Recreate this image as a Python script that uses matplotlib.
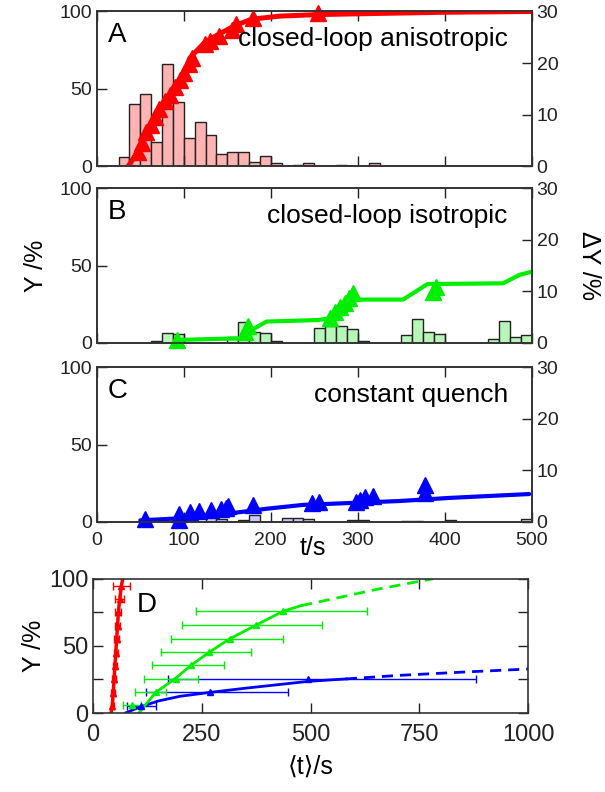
import matplotlib
matplotlib.use('Agg')
import matplotlib.pyplot as plt
import numpy as np

plt.rcParams['font.family'] = ['Liberation Sans', 'DejaVu Sans']

# ---- panel A: closed-loop anisotropic
a_bins = [25, 37.5, 50, 62.5, 75, 87.5, 100, 112.5, 125, 137.5, 150, 162.5,
          175, 187.5, 200, 225, 237.5, 275, 312.5]
a_hist = [1.8, 12.0, 14.0, 4.7, 19.8, 12.5, 5.4, 8.5, 6.0, 2.3, 2.7, 2.8,
          0.8, 2.0, 0.6, 0.2, 0.6, 0.2, 0.6]
a_line_t = [36, 47, 53, 60, 69, 80, 92, 99, 107, 124, 136, 159, 178, 210, 254, 300, 400, 500]
a_line_y = [0, 9, 18, 25, 33, 43, 53, 59, 70, 80, 84, 91, 95, 97, 98, 98.5, 99.5, 100]
a_pts_t = [47, 52, 56, 62, 67, 72, 78, 84, 90, 96, 100, 106, 110, 124, 130, 140, 155, 160, 180, 254]
a_pts_y = [9, 15, 22, 27, 32, 37, 42, 46, 51, 56, 60, 66, 70, 79, 81, 84, 88, 92, 96, 99]

# ---- panel B: closed-loop isotropic
b_bins = [62.5, 75, 87.5, 150, 162.5, 175, 187.5, 200, 250, 262.5, 275, 287.5, 300,
          350, 362.5, 375, 387.5, 450, 462.5, 475, 487.5]
b_hist = [0.4, 1.9, 1.7, 1.1, 4.0, 2.2, 2.0, 0.3, 2.8, 3.3, 3.3, 2.7, 0.4,
          1.5, 4.6, 2.2, 1.7, 0.8, 4.3, 1.1, 1.5]
b_line_t = [97, 164, 180, 195, 255, 268, 298, 352, 380, 467, 486, 500]
b_line_y = [2, 3, 9, 13.8, 14.8, 16, 28, 28, 38, 38.5, 44, 46]
b_pts_t = [92, 170, 174, 268, 274, 280, 285, 290, 294, 386, 390]
b_pts_y = [2, 7, 11, 16, 20, 23, 26, 29, 32, 33, 36]

# ---- panel C: constant quench
c_bins = [87.5, 100, 125, 137.5, 162.5, 175, 212.5, 225, 237.5, 287.5, 300, 350, 362.5, 400, 487.5]
c_hist = [0.7, 0.3, 1.1, 0.5, 0.3, 1.3, 0.8, 0.8, 0.5, 0.3, 0.3, 0.2, 0.2, 0.3, 0.5]
c_line_t = [50, 94, 125, 160, 195, 237, 348, 405, 497]
c_line_y = [1, 2.3, 3.8, 6, 8.5, 11, 13.5, 15.5, 18]
c_pts_t = [55, 94, 95, 107, 118, 131, 143, 148, 151, 180, 247, 255, 298, 303, 308, 318, 377, 377]
c_pts_y = [2, 1, 5, 6.5, 7, 8, 8.5, 9, 10, 11, 12, 13, 13, 14, 16, 17, 19, 24]

# ---- panel D: mean time vs yield
d_red_t = [44, 46, 48, 50, 52, 54, 56, 58, 61, 65]
d_red_y = [5, 15, 25, 35, 45, 55, 65, 75, 85, 95]
d_red_err = [4, 4, 4, 5, 5, 5, 6, 7, 11, 20]
d_red_line_t = [41, 44, 46, 48, 50, 52, 54, 56, 58, 61, 65, 68]
d_red_line_y = [0, 5, 15, 25, 35, 45, 55, 65, 75, 85, 95, 100]

d_grn_t = [90, 144, 190, 226, 267, 314, 374, 437]
d_grn_y = [5.7, 15.4, 25.4, 35.8, 45.3, 55.5, 65.4, 75.9]
d_grn_lo = [69, 96, 117, 136, 157, 180, 205, 236]
d_grn_hi = [109, 167, 240, 300, 362, 437, 525, 629]
d_grn_fit_t = [105, 120, 144, 190, 226, 267, 314, 374, 437, 478]
d_grn_fit_y = [0, 6, 15.4, 26, 35.8, 45.3, 55.3, 65.4, 75.9, 80]
d_grn_ext_t = [478, 550, 650, 781]
d_grn_ext_y = [80, 85, 92, 100]

d_blu_t = [110, 269, 495]
d_blu_y = [5, 15.4, 25.4]
d_blu_lo = [78, 122, 172]
d_blu_hi = [144, 449, 879]
d_blu_fit_t = [74, 105, 150, 200, 269, 350, 495, 581]
d_blu_fit_y = [0, 4.2, 9, 12.5, 15.4, 18.5, 23.6, 25.4]
d_blu_ext_t = [581, 700, 850, 1000]
d_blu_ext_y = [25.4, 28, 30.5, 32.8]

RED = '#ff0000'
GREEN = '#00ee00'
BLUE = '#0000ff'

fig = plt.figure(figsize=(6.05, 7.92), dpi=100)

def style(ax, size):
    for s in ax.spines.values():
        s.set_color('#333333')
        s.set_linewidth(1.2)
    ax.tick_params(direction='in', length=7, width=1, labelsize=size, colors='#222222')


panels = [
    (0.790, a_bins, a_hist, '#ffb3b3', a_line_t, a_line_y, a_pts_t, a_pts_y, RED, 'A', 'closed-loop anisotropic', 3.6),
    (0.567, b_bins, b_hist, '#b8f5b8', b_line_t, b_line_y, b_pts_t, b_pts_y, GREEN, 'B', 'closed-loop isotropic', 3.0),
    (0.341, c_bins, c_hist, '#c8c8ff', c_line_t, c_line_y, c_pts_t, c_pts_y, BLUE, 'C', 'constant quench', 3.0),
]

for i, (bot, bins, hist, hcol, lt, ly, pt, py, col, letter, name, lw) in enumerate(panels):
    ax = fig.add_axes([0.160, bot, 0.719, 0.1955])
    ax2 = ax.twinx()
    ax2.bar(bins, hist, width=12.5, align='edge', color=hcol, edgecolor='#222222', linewidth=1.0)
    ax2.set_ylim(0, 30)
    ax2.set_yticks([0, 10, 20, 30])
    ax.set_zorder(ax2.get_zorder() + 1)
    ax.patch.set_visible(False)
    ax.plot(lt, ly, color=col, lw=lw, solid_capstyle='round')
    ax.plot(pt, py, '^', color=col, ms=12, mec=col, clip_on=False)
    ax.set_xlim(0, 500)
    ax.set_ylim(0, 100)
    ax.set_yticks([0, 50, 100])
    ax.set_xticks([0, 100, 200, 300, 400, 500])
    ax.tick_params(top=True, bottom=True)
    style(ax, 14)
    style(ax2, 14)
    ax2.tick_params(right=True, left=False)
    if i < 2:
        ax.set_xticklabels([])
    else:
        ax.tick_params(axis='x', pad=7)
    ax.text(0.025, 0.93, letter, transform=ax.transAxes, fontsize=20, va='top', ha='left')
    ax.text(0.945, 0.82, name, transform=ax.transAxes, fontsize=19, va='center', ha='right')
    if i == 1:
        ax.set_ylabel('Y /%', fontsize=18, labelpad=8)
        ax2.set_ylabel('ΔY /%', fontsize=18, rotation=270, labelpad=31)

fig.text(0.517, 0.308, 't/s', fontsize=18, ha='center', va='center')

# ---- panel D
axd = fig.add_axes([0.154, 0.0997, 0.719, 0.1695])
axd.errorbar(d_blu_t, d_blu_y,
             xerr=[np.subtract(d_blu_t, d_blu_lo), np.subtract(d_blu_hi, d_blu_t)],
             fmt='^', color=BLUE, ms=5, elinewidth=1, capsize=3, lw=0)
axd.plot(d_blu_fit_t, d_blu_fit_y, color=BLUE, lw=2)
axd.plot(d_blu_ext_t, d_blu_ext_y, color=BLUE, lw=2, ls=(0, (4, 2.5)))
axd.errorbar(d_grn_t, d_grn_y,
             xerr=[np.subtract(d_grn_t, d_grn_lo), np.subtract(d_grn_hi, d_grn_t)],
             fmt='^', color=GREEN, ms=5, elinewidth=1, capsize=3, lw=0)
axd.plot(d_grn_fit_t, d_grn_fit_y, color=GREEN, lw=2)
axd.plot(d_grn_ext_t, d_grn_ext_y, color=GREEN, lw=2, ls=(0, (4, 2.5)))
axd.errorbar(d_red_t, d_red_y, xerr=d_red_err, fmt='^', color=RED, ms=5,
             elinewidth=1, capsize=3, lw=0)
axd.plot(d_red_line_t, d_red_line_y, color=RED, lw=2.5)
axd.set_xlim(0, 1000)
axd.set_ylim(0, 100)
axd.set_xticks([0, 250, 500, 750, 1000])
axd.set_yticks([0, 25, 50, 75, 100])
axd.set_yticklabels(['0', '', '50', '', '100'])
axd.tick_params(top=True, right=True)
style(axd, 17)
axd.tick_params(axis='x', pad=8)
axd.text(0.1, 0.9, 'D', transform=axd.transAxes, fontsize=20, va='top', ha='left')
axd.set_ylabel('Y /%', fontsize=18, labelpad=2)
axd.set_xlabel('⟨t⟩/s', fontsize=18, labelpad=6)

fig.savefig('out.png', dpi=100)
